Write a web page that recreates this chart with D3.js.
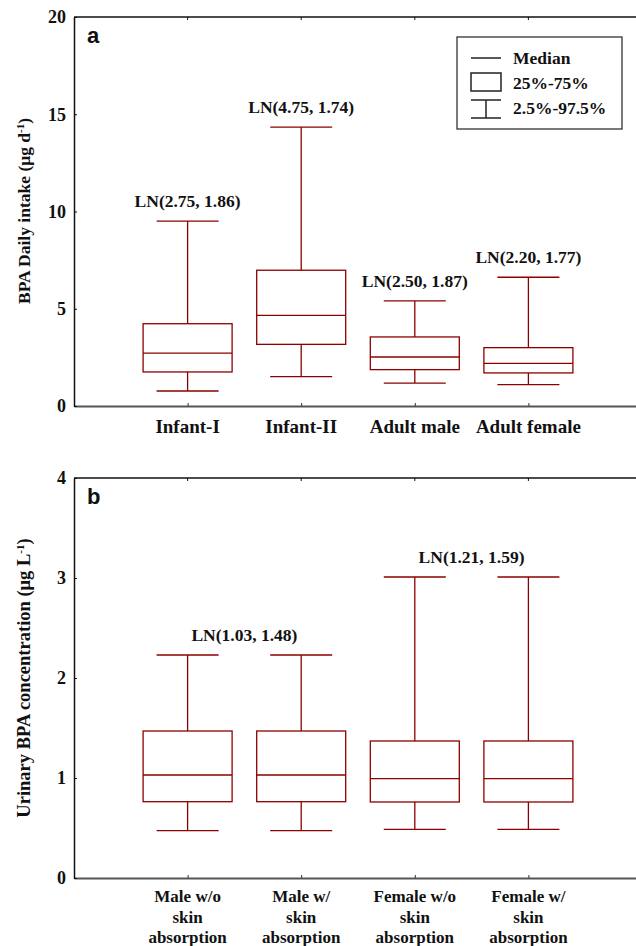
<!DOCTYPE html>
<html>
<head>
<meta charset="utf-8">
<script src="https://cdn.jsdelivr.net/npm/d3@7/dist/d3.min.js"></script>
<style>
  body { margin: 0; background: #fff; }
  svg { display: block; }
  text { font-family: 'Liberation Serif', 'Times New Roman', serif; font-weight: bold; fill: #111; }
</style>
</head>
<body>
<div id="chart"></div>
<script>
// panel a: BPA daily intake
const groupsA = [['Infant-I'], ['Infant-II'], ['Adult male'], ['Adult female']];
const lowA = [0.77, 1.51, 1.18, 1.10];
const q1A = [1.75, 3.17, 1.87, 1.70];
const medA = [2.72, 4.66, 2.52, 2.19];
const q3A = [4.23, 6.98, 3.55, 3.00];
const highA = [9.51, 14.34, 5.40, 6.62];
const ticksA = [0, 5, 10, 15, 20];
const notesA = ['LN(2.75, 1.86)', 'LN(4.75, 1.74)', 'LN(2.50, 1.87)', 'LN(2.20, 1.77)'];
const notePosA = [1, 2, 3, 4];

// panel b: urinary BPA concentration
const groupsB = [
  ['Male w/o', 'skin', 'absorption'],
  ['Male w/', 'skin', 'absorption'],
  ['Female w/o', 'skin', 'absorption'],
  ['Female w/', 'skin', 'absorption'],
];
const lowB = [0.473, 0.473, 0.487, 0.487];
const q1B = [0.763, 0.763, 0.76, 0.76];
const medB = [1.03, 1.03, 0.993, 0.993];
const q3B = [1.47, 1.47, 1.37, 1.37];
const highB = [2.23, 2.23, 3.01, 3.01];
const ticksB = [0, 1, 2, 3, 4];
const notesB = ['LN(1.03, 1.48)', 'LN(1.21, 1.59)'];
const notePosB = [1.5, 3.5];

const legendItems = ['Median', '25%-75%', '2.5%-97.5%'];

const width = 636;
const height = 946;
const boxColor = '#8b0000';
const left = 74;

const svg = d3.select('#chart')
  .append('svg')
  .attr('width', width)
  .attr('height', height);

const x = d3.scaleLinear()
  .domain([0, 5])
  .range([left, 642]);

function drawPanel(opts) {
  const y = d3.scaleLinear()
    .domain(opts.domain)
    .range([opts.bottom, opts.top]);

  const g = svg.append('g');

  // frame: top border
  g.append('line')
    .attr('x1', left).attr('x2', width)
    .attr('y1', opts.top).attr('y2', opts.top)
    .attr('stroke', '#111').attr('stroke-width', 1.5);

  // top tick marks
  g.append('g')
    .selectAll('line')
    .data([1, 2, 3, 4])
    .join('line')
    .attr('x1', (d) => x(d)).attr('x2', (d) => x(d))
    .attr('y1', opts.top).attr('y2', opts.top + 3)
    .attr('stroke', '#111');

  // bottom axis
  const xAxis = d3.axisBottom(x)
    .tickValues([1, 2, 3, 4])
    .tickSize(-3)
    .tickSizeOuter(0)
    .tickFormat('');
  const xg = g.append('g')
    .attr('transform', `translate(0, ${opts.bottom})`)
    .call(xAxis);
  xg.select('.domain').attr('stroke', '#555').attr('stroke-width', 2);
  xg.selectAll('.tick line').attr('stroke', '#333');

  // left axis
  const yAxis = d3.axisLeft(y)
    .tickValues(opts.ticks)
    .tickFormat(d3.format('d'))
    .tickSize(-3)
    .tickSizeOuter(0)
    .tickPadding(8);
  const yg = g.append('g')
    .attr('transform', `translate(${left}, 0)`)
    .call(yAxis);
  yg.select('.domain').attr('stroke', '#111').attr('stroke-width', 1.5);
  yg.selectAll('.tick line').attr('stroke', '#111');
  yg.selectAll('.tick text')
    .attr('font-family', 'Liberation Serif')
    .attr('font-weight', 'bold')
    .attr('font-size', 18)
    .attr('fill', '#111');

  // y title
  const title = g.append('text')
    .attr('transform', `translate(30, ${opts.titleY}) rotate(-90)`)
    .attr('text-anchor', 'middle')
    .attr('font-size', opts.titleSize);
  title.append('tspan').text(opts.title);
  title.append('tspan').attr('font-size', 11).attr('dy', -6).text('-1');
  title.append('tspan').attr('dy', 6).text(')');

  // panel letter
  g.append('text')
    .attr('x', 87)
    .attr('y', opts.top + 26)
    .style('font-family', 'Liberation Sans, Arial, sans-serif')
    .attr('font-size', 22)
    .text(opts.letter);

  const idx = d3.range(opts.groups.length);
  const boxes = g.append('g')
    .selectAll('g')
    .data(idx)
    .join('g')
    .attr('stroke', boxColor)
    .attr('stroke-width', 1.3)
    .attr('fill', 'none');

  // whisker stems
  boxes.append('line')
    .attr('x1', (i) => x(i + 1)).attr('x2', (i) => x(i + 1))
    .attr('y1', (i) => y(opts.high[i])).attr('y2', (i) => y(opts.q3[i]));
  boxes.append('line')
    .attr('x1', (i) => x(i + 1)).attr('x2', (i) => x(i + 1))
    .attr('y1', (i) => y(opts.q1[i])).attr('y2', (i) => y(opts.low[i]));
  // caps
  boxes.append('line')
    .attr('x1', (i) => x(i + 1) - 31).attr('x2', (i) => x(i + 1) + 31)
    .attr('y1', (i) => y(opts.high[i])).attr('y2', (i) => y(opts.high[i]));
  boxes.append('line')
    .attr('x1', (i) => x(i + 1) - 31).attr('x2', (i) => x(i + 1) + 31)
    .attr('y1', (i) => y(opts.low[i])).attr('y2', (i) => y(opts.low[i]));
  // box
  boxes.append('rect')
    .attr('x', (i) => x(i + 1) - 44.5)
    .attr('width', 89)
    .attr('y', (i) => y(opts.q3[i]))
    .attr('height', (i) => y(opts.q1[i]) - y(opts.q3[i]));
  // median
  boxes.append('line')
    .attr('x1', (i) => x(i + 1) - 44.5).attr('x2', (i) => x(i + 1) + 44.5)
    .attr('y1', (i) => y(opts.med[i])).attr('y2', (i) => y(opts.med[i]));

  // distribution notes above whiskers
  g.append('g')
    .selectAll('text')
    .data(opts.notes)
    .join('text')
    .attr('x', (d, j) => x(opts.notePos[j]))
    .attr('y', (d, j) => {
      const p = opts.notePos[j];
      const near = idx.filter((i) => Math.abs(i + 1 - p) < 1);
      return y(d3.max(near, (i) => opts.high[i])) - 14;
    })
    .attr('text-anchor', 'middle')
    .attr('font-size', 17.5)
    .text((d) => d);

  // category labels
  g.append('g')
    .selectAll('text')
    .data(opts.groups)
    .join('text')
    .attr('text-anchor', 'middle')
    .attr('font-size', opts.labelSize)
    .attr('transform', (d, i) => `translate(${x(i + 1)}, ${opts.bottom + opts.labelOffset})`)
    .selectAll('tspan')
    .data((d) => d)
    .join('tspan')
    .attr('x', 0)
    .attr('dy', (d, k) => (k === 0 ? 0 : opts.labelSize * 1.22))
    .text((d) => d);
}

drawPanel({
  domain: [0, 20], top: 17, bottom: 406, ticks: ticksA,
  groups: groupsA, low: lowA, q1: q1A, med: medA, q3: q3A, high: highA,
  notes: notesA, notePos: notePosA,
  title: 'BPA Daily intake (μg d', titleY: 211, titleSize: 17.5, letter: 'a',
  labelSize: 19, labelOffset: 27,
});

drawPanel({
  domain: [0, 4], top: 478, bottom: 878, ticks: ticksB,
  groups: groupsB, low: lowB, q1: q1B, med: medB, q3: q3B, high: highB,
  notes: notesB, notePos: notePosB,
  title: 'Urinary BPA concentration (μg L', titleY: 678, titleSize: 18.5, letter: 'b',
  labelSize: 17, labelOffset: 24,
});

// legend
const legend = svg.append('g').attr('transform', 'translate(457, 37)');
legend.append('rect')
  .attr('width', 165).attr('height', 92)
  .attr('fill', '#fff').attr('stroke', '#222').attr('stroke-width', 1.2);
const sym = legend.append('g').attr('stroke', '#222').attr('stroke-width', 1.5).attr('fill', 'none');
sym.append('line').attr('x1', 14).attr('x2', 44).attr('y1', 21).attr('y2', 21);
sym.append('rect').attr('x', 14).attr('y', 36).attr('width', 30).attr('height', 18);
sym.append('line').attr('x1', 14).attr('x2', 44).attr('y1', 63).attr('y2', 63);
sym.append('line').attr('x1', 14).attr('x2', 44).attr('y1', 81).attr('y2', 81);
sym.append('line').attr('x1', 29).attr('x2', 29).attr('y1', 63).attr('y2', 81);
legend.selectAll('text.item')
  .data(legendItems)
  .join('text')
  .attr('class', 'item')
  .attr('x', 56)
  .attr('y', (d, i) => 27 + i * 25)
  .attr('font-size', 17.5)
  .text((d) => d);
</script>
</body>
</html>
